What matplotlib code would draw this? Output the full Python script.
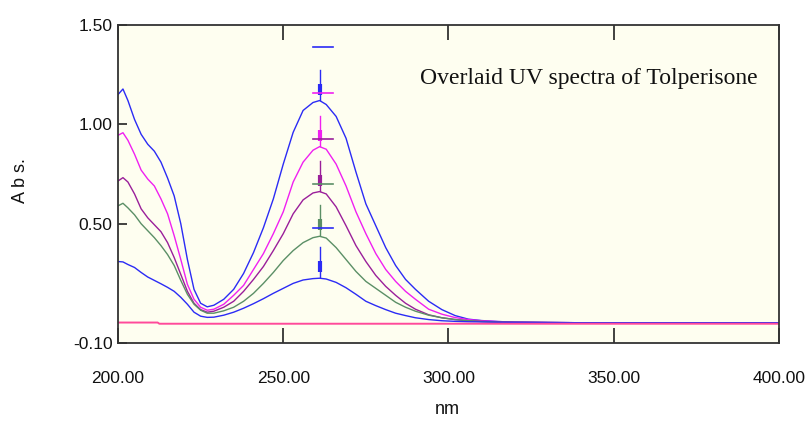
import matplotlib
matplotlib.use('Agg')
import matplotlib.pyplot as plt
import numpy as np

# wavelength grid (nm) shared by all traces
wl = [200, 201.5, 203, 205, 207, 209, 211, 213, 215, 217, 219, 221, 223, 225, 227,
      229, 232, 235, 238, 241, 244, 247, 250, 253, 256, 259, 261, 263, 266, 269,
      272, 275, 278, 281, 284, 287, 290, 294, 298, 302, 306, 310, 315, 320, 330,
      340, 360, 380, 400]

abs_blue_hi = [1.15, 1.178, 1.12, 1.025, 0.95, 0.90, 0.865, 0.81, 0.73, 0.64, 0.50, 0.32,
               0.17, 0.10, 0.082, 0.09, 0.12, 0.17, 0.25, 0.355, 0.48, 0.625, 0.80, 0.96,
               1.07, 1.11, 1.12, 1.10, 1.04, 0.93, 0.76, 0.60, 0.49, 0.38, 0.29, 0.22,
               0.17, 0.11, 0.068, 0.038, 0.02, 0.013, 0.008, 0.005, 0.003, 0.002, 0.002,
               0.002, 0.002]
abs_magenta = [0.945, 0.958, 0.92, 0.85, 0.77, 0.725, 0.69, 0.625, 0.55, 0.44, 0.32,
               0.195, 0.12, 0.08, 0.065, 0.07, 0.095, 0.14, 0.19, 0.27, 0.35, 0.45,
               0.56, 0.71, 0.81, 0.87, 0.888, 0.875, 0.80, 0.69, 0.56, 0.45, 0.35, 0.27,
               0.21, 0.16, 0.12, 0.07, 0.045, 0.028, 0.018, 0.012, 0.008, 0.005, 0.003,
               0.002, 0.002, 0.002, 0.002]
abs_purple = [0.715, 0.732, 0.71, 0.65, 0.575, 0.53, 0.495, 0.46, 0.405, 0.33, 0.245,
              0.16, 0.10, 0.068, 0.055, 0.06, 0.08, 0.11, 0.16, 0.22, 0.285, 0.365,
              0.45, 0.55, 0.62, 0.655, 0.662, 0.65, 0.585, 0.49, 0.39, 0.31, 0.24,
              0.185, 0.14, 0.10, 0.07, 0.042, 0.027, 0.018, 0.012, 0.009, 0.006, 0.004,
              0.003, 0.002, 0.002, 0.002, 0.002]
abs_green = [0.59, 0.603, 0.58, 0.545, 0.50, 0.465, 0.43, 0.39, 0.345, 0.29, 0.215,
             0.145, 0.095, 0.065, 0.05, 0.05, 0.062, 0.08, 0.11, 0.15, 0.20, 0.255,
             0.315, 0.365, 0.405, 0.43, 0.437, 0.428, 0.38, 0.32, 0.26, 0.21, 0.175,
             0.14, 0.105, 0.08, 0.06, 0.04, 0.027, 0.018, 0.012, 0.008, 0.005, 0.004,
             0.003, 0.002, 0.002, 0.002, 0.002]
abs_blue_lo = [0.31, 0.308, 0.295, 0.28, 0.255, 0.232, 0.215, 0.198, 0.18, 0.16, 0.13,
               0.095, 0.055, 0.035, 0.029, 0.03, 0.04, 0.055, 0.075, 0.098, 0.123, 0.15,
               0.175, 0.20, 0.217, 0.224, 0.226, 0.222, 0.205, 0.178, 0.145, 0.11, 0.088,
               0.068, 0.05, 0.038, 0.027, 0.018, 0.012, 0.009, 0.007, 0.006, 0.005,
               0.004, 0.003, 0.002, 0.002, 0.002, 0.002]

baseline_wl = [200, 212, 212.5, 400]
baseline_abs = [0.003, 0.003, -0.003, -0.003]

peak_wl = 261.0
top_marker_abs = 1.39

spectra = [abs_blue_hi, abs_magenta, abs_purple, abs_green, abs_blue_lo]
colors = ['#2b2bf5', '#f020f0', '#9a1f9a', '#5b8f66', '#2b2bf5']

xticks = [200, 250, 300, 350, 400]
yticks = [-0.10, 0.50, 1.00, 1.50]

sans = ['Liberation Sans', 'DejaVu Sans']


def main():
  fig = plt.figure(figsize=(8.06, 4.23), dpi=100)
  ax = fig.add_axes([0.1464, 0.1891, 0.8201, 0.7518])
  ax.set_facecolor('#fefef0')

  for vals, c in zip(spectra, colors):
    ax.plot(wl, vals, color=c, lw=1.0)
  ax.plot(baseline_wl, baseline_abs, color='#ff4a9a', lw=1.4)

  # peak-pick arrows and dashes
  peaks = [np.interp(peak_wl, wl, v) for v in spectra]
  for k, (p, c) in enumerate(zip(peaks, colors)):
    ax.plot([peak_wl, peak_wl], [p + 0.155, p + 0.005], color=c, lw=1.0)
    ax.plot([peak_wl, peak_wl], [p + 0.085, p + 0.03], color=c, lw=3.0,
            solid_capstyle='butt')
    dash_y = top_marker_abs if k == 0 else peaks[k - 1] + 0.04
    ax.plot([peak_wl - 2.0, peak_wl + 4.0], [dash_y, dash_y], color=c, lw=1.2)

  ax.set_xlim(200, 400)
  ax.set_ylim(-0.10, 1.50)
  ax.set_xticks(xticks)
  ax.set_xticklabels(['%.2f' % t for t in xticks], family=sans, fontsize=12.5)
  ax.set_yticks(yticks)
  ax.set_yticklabels(['%.2f' % t for t in yticks], family=sans, fontsize=12.5)
  ax.tick_params(axis='x', direction='in', length=11, width=1.2, top=True, pad=20,
                 colors='#222222', labelcolor='#111111')
  ax.tick_params(axis='y', direction='in', length=6.5, width=1.2, pad=4,
                 colors='#222222', labelcolor='#111111')
  for s in ax.spines.values():
    s.set_color('#333333')
    s.set_linewidth(1.3)

  ax.text(0.457, 0.833, 'Overlaid UV spectra of Tolperisone', transform=ax.transAxes,
          ha='left', va='center', family=['Liberation Serif', 'DejaVu Serif'],
          fontsize=17, color='#111111')

  fig.text(0.026, 0.574, 'A b s.', rotation=90, ha='center', va='center',
           family=sans, fontsize=13, color='#111111')
  fig.text(0.5546, 0.031, 'nm', ha='center', va='center', family=sans, fontsize=13,
           color='#111111')

  fig.savefig('out.png', dpi=100, facecolor='white')


if __name__ == '__main__':
  main()
